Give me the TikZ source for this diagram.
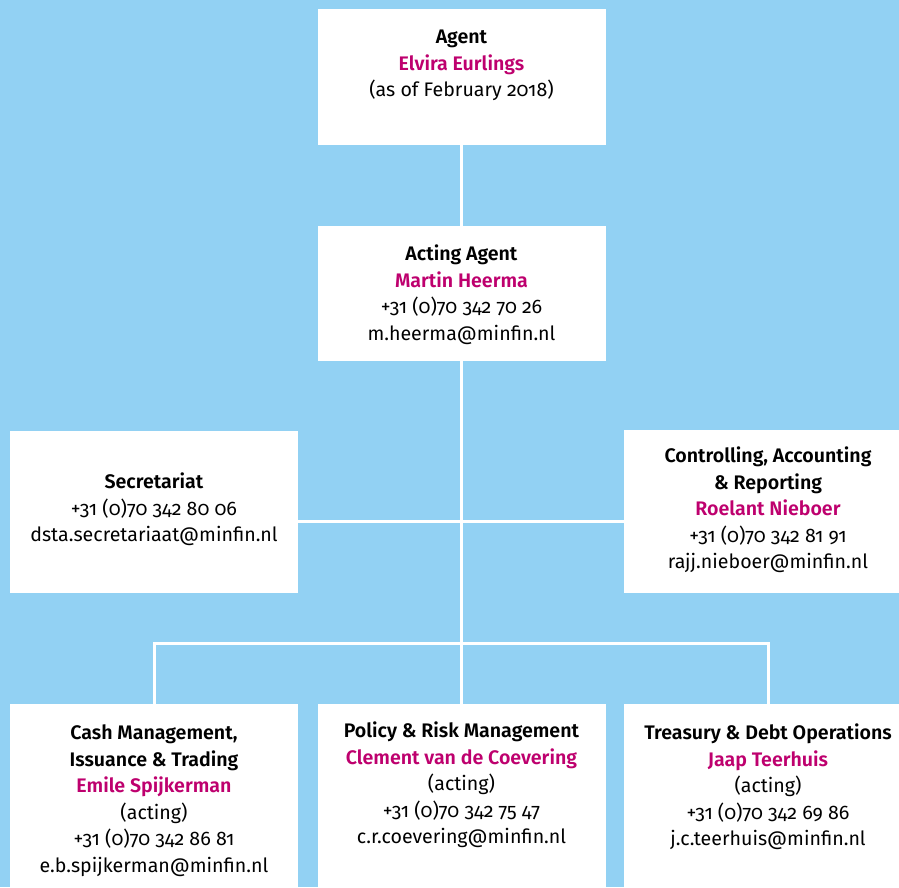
\documentclass[tikz,border=0pt]{standalone}
\usepackage{fontspec}
\setmainfont{Fira Sans}[RawFeature=+onum, BoldFont=Fira Sans SemiBold, BoldFeatures={RawFeature=+onum}]
\usepackage{tikz}

\definecolor{bgblue}{RGB}{146,209,243}
\definecolor{namecol}{RGB}{190,0,110}
\newcommand{\who}[1]{\textcolor{namecol}{\textbf{#1}}}

\begin{document}
\begin{tikzpicture}[x=1pt, y=-1pt,
        box/.style={fill=white, minimum width=288pt, inner sep=0pt},
        txt/.style={align=center, anchor=north, inner sep=0pt, font=\fontsize{19.6}{26.5}\selectfont},
        link/.style={draw=white, line width=3pt}]
        \useasboundingbox (0,0) rectangle (899,887);
        \clip (0,0) rectangle (899,887);
        \fill[bgblue] (0,0) rectangle (899,887);

        % boxes
        \node[box, minimum height=136pt] (agent) at (461.5,77) {};
        \node[box, minimum height=135pt] (acting) at (461.5,293.5) {};
        \node[box, minimum height=162pt] (secr) at (154,512) {};
        \node[box, minimum height=163pt] (ctrl) at (768,511.5) {};
        \node[box, minimum height=200pt] (cash) at (154,804) {};
        \node[box, minimum height=200pt] (poli) at (461.5,804) {};
        \node[box, minimum height=200pt] (trea) at (768,804) {};

        % texts
        \node[txt] (agentT) at ([yshift=-21pt]agent.north) {\textbf{Agent}\\ \who{Elvira Eurlings}\\ (as of February 2018)};
        \node[txt] (actingT) at ([yshift=-19pt]acting.north) {\textbf{Acting Agent}\\ \who{Martin Heerma}\\ +31 (0)70 342 70 26\\ m.heerma@minfin.nl};
        \node[txt] (secrT) at ([yshift=-42pt]secr.north) {\textbf{Secretariat}\\ +31 (0)70 342 80 06\\ dsta.secretariaat@minfin.nl};
        \node[txt] (ctrlT) at ([yshift=-17pt]ctrl.north) {\textbf{Controlling, Accounting}\\ \textbf{\& Reporting}\\ \who{Roelant Nieboer}\\ +31 (0)70 342 81 91\\ rajj.nieboer@minfin.nl};
        \node[txt] (cashT) at ([yshift=-21pt]cash.north) {\textbf{Cash Management,}\\ \textbf{Issuance \& Trading}\\ \who{Emile Spijkerman}\\ (acting)\\ +31 (0)70 342 86 81\\ e.b.spijkerman@minfin.nl};
        \node[txt] (poliT) at ([yshift=-18pt]poli.north) {\textbf{Policy \& Risk Management}\\ \who{Clement van de Coevering}\\ (acting)\\ +31 (0)70 342 75 47\\ c.r.coevering@minfin.nl};
        \node[txt] (treaT) at ([yshift=-20pt]trea.north) {\textbf{Treasury \& Debt Operations}\\ \who{Jaap Teerhuis}\\ (acting)\\ +31 (0)70 342 69 86\\ j.c.teerhuis@minfin.nl};

        % lines
        \coordinate (mid) at (461.5,521);
        \coordinate (hub) at (461.5,643);
        \draw[link] (agent) -- (acting);
        \draw[link] (acting) -- (hub);
        \draw[link] (secr.east |- mid) -- (ctrl.west |- mid);
        \draw[link] (cash.north) -- (cash.north |- hub) -- (trea.north |- hub) -- (trea.north);
        \draw[link] (hub) -- (poli);
    \end{tikzpicture}
\end{document}
